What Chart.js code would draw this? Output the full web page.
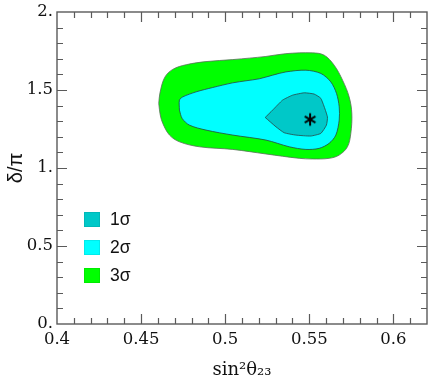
<!DOCTYPE html>
<html>
<head>
<meta charset="utf-8">
<script src="https://cdn.jsdelivr.net/npm/chart.js@4/dist/chart.umd.min.js"></script>
<style>
html,body{margin:0;padding:0;background:#fff;}
#wrap{position:relative;width:436px;height:382px;overflow:hidden;}
#c{display:block;}
.leg{position:absolute;left:84px;height:16px;display:flex;align-items:center;font:17.5px "Liberation Sans",Arial,sans-serif;color:#111;}
.leg .box{width:16px;height:15px;margin-right:10px;box-sizing:border-box;border:1px solid rgba(0,0,0,0.08);}
</style>
</head>
<body>
<div id="wrap">
<canvas id="c" width="436" height="382"></canvas>
<div id="legend"></div>
</div>
<script>
// ---- data ----
const sigma3X = [0.4605,0.4614,0.4629,0.4669,0.4728,0.4847,0.5045,0.5242,0.5440,0.5519,0.5618,0.5678,0.5727,0.5747,0.5753,0.5737,0.5698,0.5648,0.5589,0.5519,0.5361,0.5242,0.5045,0.4886,0.4768,0.4688,0.4640,0.4612,0.4605];
const sigma3Y = [1.414,1.340,1.286,1.211,1.168,1.136,1.119,1.090,1.062,1.058,1.062,1.083,1.136,1.222,1.350,1.456,1.563,1.659,1.723,1.738,1.733,1.715,1.695,1.682,1.662,1.632,1.580,1.480,1.414];

const sigma2X = [0.4728,0.4744,0.4787,0.4886,0.5045,0.5242,0.5381,0.5480,0.5559,0.5618,0.5658,0.5678,0.5678,0.5662,0.5628,0.5569,0.5480,0.5361,0.5282,0.5203,0.5124,0.5045,0.4926,0.4827,0.4748,0.4728,0.4728];
const sigma2Y = [1.371,1.318,1.275,1.243,1.211,1.179,1.136,1.119,1.126,1.158,1.211,1.307,1.392,1.478,1.552,1.606,1.627,1.616,1.595,1.572,1.559,1.546,1.516,1.488,1.456,1.435,1.371];

const sigma1X = [0.5238,0.5282,0.5341,0.5401,0.5470,0.5529,0.5569,0.5608,0.5602,0.5569,0.5509,0.5420,0.5351,0.5302,0.5238];
const sigma1Y = [1.324,1.371,1.435,1.467,1.482,1.474,1.446,1.328,1.275,1.222,1.205,1.211,1.226,1.264,1.324];

const bestFitX = [0.5505];
const bestFitY = [1.311];

const legendLabels = ['1σ','2σ','3σ'];
const legendColors = ['#00c8c8','#00ffff','#00ff00'];

const xTickValues = [0.4,0.45,0.5,0.55,0.6];
const xTickLabels = ['0.4','0.45','0.5','0.55','0.6'];
const yTickValues = [0,0.5,1,1.5,2];
const yTickLabels = ['0.','0.5','1.','1.5','2.'];

const xTitle = 'sin²θ₂₃';
const yTitle = 'δ/π';

// ---- helpers ----
function pts(xs, ys){ return xs.map((x,i)=>({x:x, y:ys[i]})); }

function starImage(){
  const c = document.createElement('canvas');
  c.width = 16; c.height = 16;
  const g = c.getContext('2d');
  g.strokeStyle = '#000'; g.lineWidth = 2; g.lineCap = 'butt';
  const r = 6.2;
  for (let k=0;k<3;k++){
    const a = Math.PI/2 + k*Math.PI/3;
    g.beginPath();
    g.moveTo(8 + r*Math.cos(a), 8 - r*Math.sin(a));
    g.lineTo(8 - r*Math.cos(a), 8 + r*Math.sin(a));
    g.stroke();
  }
  return c;
}

// frame with inward ticks on all four sides
const framePlugin = {
  id: 'frame',
  afterDatasetsDraw(chart){
    const {ctx, chartArea:a, scales:{x, y}} = chart;
    ctx.save();
    ctx.strokeStyle = '#5a5a5a';
    ctx.lineWidth = 1.2;
    ctx.beginPath();
    for (let i=41;i<=61;i++){
      const v = i/100;
      const px = Math.round(x.getPixelForValue(v)) + 0.5;
      const len = (i % 5 === 0) ? 10 : 6;
      ctx.moveTo(px, a.bottom); ctx.lineTo(px, a.bottom - len);
      ctx.moveTo(px, a.top); ctx.lineTo(px, a.top + len);
    }
    for (let i=1;i<=19;i++){
      const v = i/10;
      const py = Math.round(y.getPixelForValue(v)) + 0.5;
      const len = (i % 5 === 0) ? 10 : 6;
      ctx.moveTo(a.left, py); ctx.lineTo(a.left + len, py);
      ctx.moveTo(a.right, py); ctx.lineTo(a.right - len, py);
    }
    ctx.stroke();
    ctx.lineWidth = 1.4;
    ctx.strokeRect(a.left, a.top, a.right - a.left, a.bottom - a.top);
    ctx.restore();
  }
};

const serif = '"DejaVu Serif","Liberation Serif",serif';
const sans = '"Liberation Sans","DejaVu Sans",Arial,sans-serif';

const chart = new Chart(document.getElementById('c'), {
  type: 'scatter',
  data: {
    datasets: [
      { label: 'best fit', data: pts(bestFitX, bestFitY), showLine: false,
        pointStyle: starImage(), pointRadius: 8, pointHoverRadius: 8 },
      { label: legendLabels[0], data: pts(sigma1X, sigma1Y), showLine: true, tension: 0.15,
        backgroundColor: legendColors[0], borderColor: 'rgba(40,70,70,0.8)', borderWidth: 1,
        pointRadius: 0, fill: 'shape' },
      { label: legendLabels[1], data: pts(sigma2X, sigma2Y), showLine: true, tension: 0.3,
        backgroundColor: legendColors[1], borderColor: 'rgba(40,70,70,0.8)', borderWidth: 1,
        pointRadius: 0, fill: 'shape' },
      { label: legendLabels[2], data: pts(sigma3X, sigma3Y), showLine: true, tension: 0.35,
        backgroundColor: legendColors[2], borderColor: 'rgba(90,110,90,0.8)', borderWidth: 1,
        pointRadius: 0, fill: 'shape' }
    ]
  },
  options: {
    responsive: false,
    animation: false,
    devicePixelRatio: 1,
    layout: { padding: { top: 12, right: 8, left: 0, bottom: 0 } },
    plugins: { legend: { display: false }, tooltip: { enabled: false } },
    scales: {
      x: {
        type: 'linear', min: 0.4, max: 0.62, position: 'bottom',
        grid: { display: false, drawTicks: false },
        border: { display: false },
        afterBuildTicks: s => { s.ticks = xTickValues.map(v => ({value: v})); },
        ticks: {
          autoSkip: false, maxRotation: 0, padding: 6, color: '#111',
          font: { family: serif, size: 16.5 },
          callback: (v) => { const i = xTickValues.findIndex(t => Math.abs(t - v) < 1e-9); return i >= 0 ? xTickLabels[i] : ''; }
        },
        title: { display: true, text: xTitle, color: '#111', font: { family: serif, size: 18 }, padding: { top: 0, bottom: 1 } },
        afterFit: s => { s.height = 58; s.paddingLeft = 0; s.paddingRight = 0; }
      },
      y: {
        type: 'linear', min: 0, max: 2, position: 'left',
        grid: { display: false, drawTicks: false },
        border: { display: false },
        afterBuildTicks: s => { s.ticks = yTickValues.map(v => ({value: v})); },
        ticks: {
          autoSkip: false, padding: 4, color: '#111',
          font: { family: serif, size: 16.5 },
          callback: (v) => { const i = yTickValues.findIndex(t => Math.abs(t - v) < 1e-9); return i >= 0 ? yTickLabels[i] : ''; }
        },
        title: { display: true, text: yTitle, color: '#111', font: { family: sans, size: 20 }, padding: { top: 4, bottom: 0 } },
        afterFit: s => { s.width = 57; s.paddingTop = 0; s.paddingBottom = 0; }
      }
    }
  },
  plugins: [framePlugin]
});

// legend (HTML, inside the plot area)
const legendTops = [211, 239, 267];
const legendEl = document.getElementById('legend');
legendLabels.forEach((lab, i) => {
  const d = document.createElement('div');
  d.className = 'leg';
  d.style.top = legendTops[i] + 'px';
  d.innerHTML = '<span class="box" style="background:' + legendColors[i] + '"></span><span>' + lab + '</span>';
  legendEl.appendChild(d);
});
</script>
</body>
</html>
